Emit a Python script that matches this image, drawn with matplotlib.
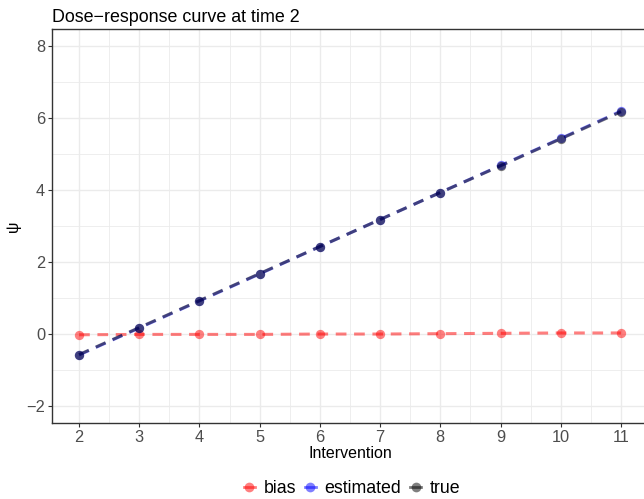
import numpy as np
import matplotlib.pyplot as plt
from matplotlib.lines import Line2D
from matplotlib.ticker import MultipleLocator

plt.rcParams['font.family'] = ['Liberation Sans', 'DejaVu Sans']

# valores
intervention = [2, 3, 4, 5, 6, 7, 8, 9, 10, 11]
true_psi = [-0.57, 0.18, 0.93, 1.68, 2.43, 3.18, 3.93, 4.67, 5.42, 6.17]
est_psi = [-0.58, 0.17, 0.92, 1.67, 2.43, 3.18, 3.93, 4.68, 5.43, 6.19]
bias_psi = [-0.02, -0.01, -0.01, -0.01, 0.0, 0.0, 0.01, 0.02, 0.03, 0.03]
x_ticks = [2, 3, 4, 5, 6, 7, 8, 9, 10, 11]
y_ticks = [-2, 0, 2, 4, 6, 8]

fig = plt.figure(figsize=(6.44, 4.99), dpi=100)
ax = fig.add_axes([52 / 644, 76 / 499, 596 / 644, 394 / 499])

series = [('bias', bias_psi, 'red', 0.5),
          ('estimated', est_psi, 'blue', 0.5),
          ('true', true_psi, 'black', 0.5)]
for nome, ys, cor, a in series:
    ax.plot(intervention, ys, ls=(0, (3.5, 2.5)), lw=2.2, color=cor, alpha=a, zorder=3)
    ax.scatter(intervention, ys, s=45, color=cor, alpha=a, lw=0, zorder=4)

ax.set_xlim(1.55, 11.45)
ax.set_ylim(-2.47, 8.47)
ax.set_xticks(x_ticks)
ax.set_yticks(y_ticks)
ax.xaxis.set_minor_locator(MultipleLocator(0.5))
ax.yaxis.set_minor_locator(MultipleLocator(1))
ax.grid(which='major', color='#EBEBEB', lw=1.0, zorder=0)
ax.grid(which='minor', color='#EBEBEB', lw=0.6, zorder=0)
ax.tick_params(which='minor', length=0)
ax.tick_params(which='major', length=3, color='#333333', labelsize=11.8,
               labelcolor='#4D4D4D', pad=2)
for s in ax.spines.values():
    s.set_color('#333333')
    s.set_linewidth(1.0)
ax.set_axisbelow(True)

ax.set_xlabel('Intervention', fontsize=11.5, labelpad=1)
ax.set_ylabel('ψ', fontsize=11.5, labelpad=4)
ax.set_title('Dose\u2212response curve at time 2', loc='left', fontsize=12.9, pad=5)

handles = [Line2D([0], [0], color=c, alpha=a, lw=2, marker='o', ms=7, mew=0)
           for _, _, c, a in series]
fig.legend(handles, [s[0] for s in series], loc='lower center', ncol=3,
           bbox_to_anchor=(0.547, -0.028), frameon=False, fontsize=12.8,
           handlelength=0.6, handletextpad=0.5, columnspacing=0.5)

fig.savefig('out.png', dpi=100)
